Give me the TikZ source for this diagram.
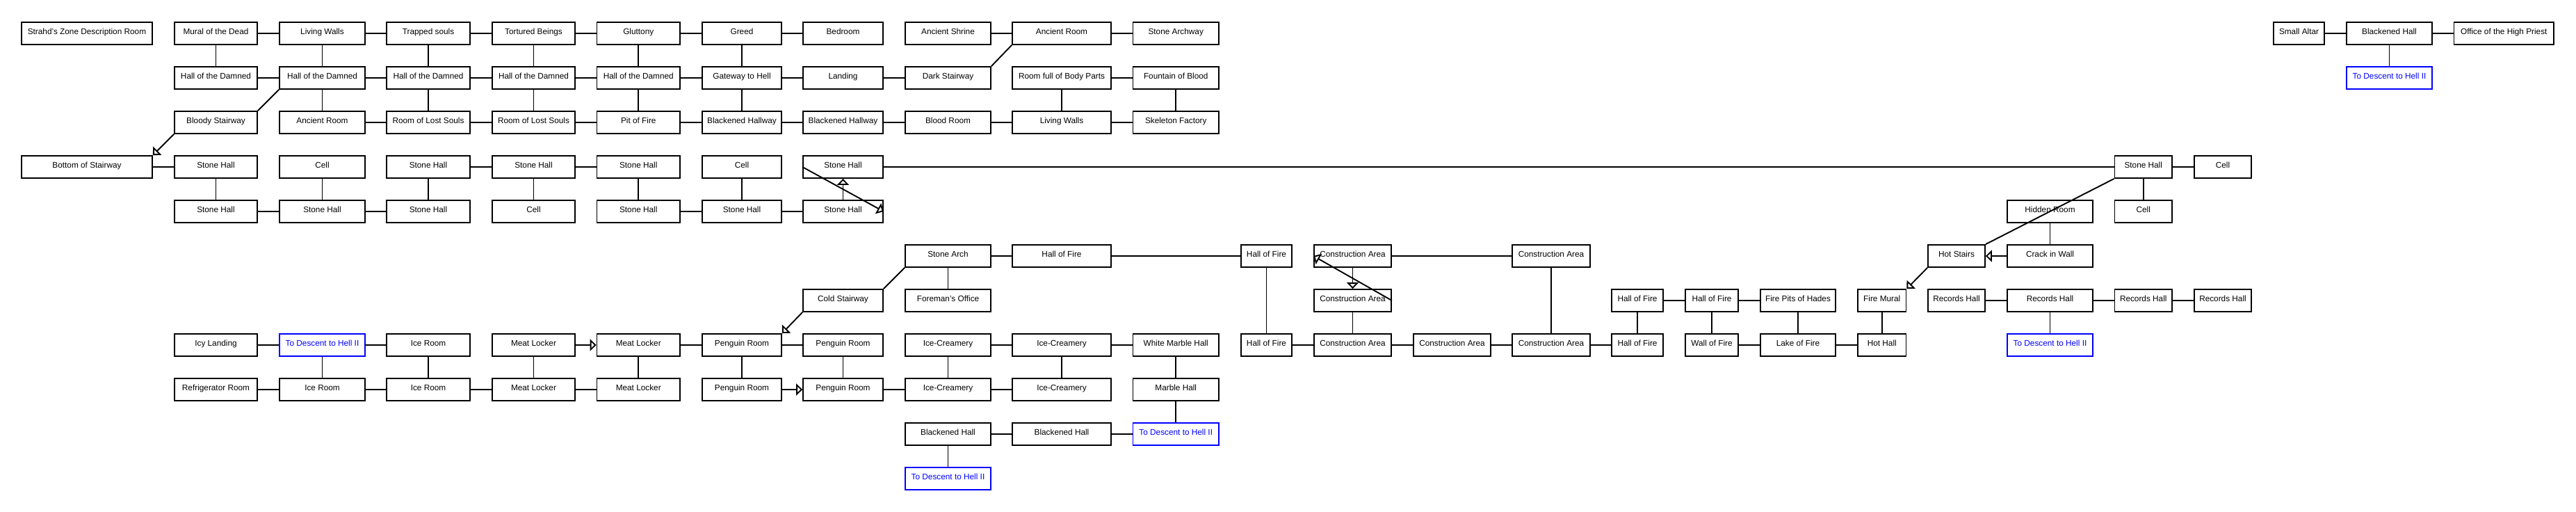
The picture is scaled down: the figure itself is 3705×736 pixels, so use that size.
\documentclass[tikz,border=0pt]{standalone}
\usepackage{fontspec}
\setmainfont{Liberation Sans}
\usepackage{xcolor}
\usetikzlibrary{arrows.meta}

\newcommand{\roomfont}{\fontsize{11.8pt}{14pt}\selectfont}

\tikzset{
  room/.style={draw, line width=1.8pt, rectangle, inner sep=0pt, minimum height=32pt,
    text height=17pt, text depth=15pt, font=\roomfont},
  exit/.style={room, draw=blue, text=blue},
  link/.style={line width=1.9pt},
  oneway/.style={line width=1.9pt, -{Triangle[open,length=9pt,width=17pt]}},
  col0/.style={minimum width=188pt},  col1/.style={minimum width=119pt},
  col2/.style={minimum width=123pt},  col3/.style={minimum width=120pt},
  col4/.style={minimum width=119pt},  col5/.style={minimum width=119.5pt},
  col6/.style={minimum width=114pt},  col7/.style={minimum width=115pt},
  col8/.style={minimum width=123pt},  col9/.style={minimum width=142pt},
  col10/.style={minimum width=123.5pt}, col11/.style={minimum width=73pt},
  col12/.style={minimum width=111pt}, col13/.style={minimum width=111pt},
  col14/.style={minimum width=112pt}, col15/.style={minimum width=74pt},
  col16/.style={minimum width=76pt},  col17/.style={minimum width=108pt},
  col18/.style={minimum width=69.5pt}, col19/.style={minimum width=82pt},
  col20/.style={minimum width=123pt}, col21/.style={minimum width=82.5pt},
  col22/.style={minimum width=82pt},  col23/.style={minimum width=73pt},
  col24/.style={minimum width=123pt}, col25/.style={minimum width=143.5pt}
}

\begin{document}
\begin{tikzpicture}[x=1pt,y=-1pt]
            \useasboundingbox (0,0) rectangle (3705,736);

            % Upper halls
            \node[room, col0] (strahd) at (125,48) {Strahd's Zone Description Room};
            \node[room, col1] (mural) at (310.5,48) {Mural of the Dead};
            \node[room, col2] (walls) at (463.5,48) {Living Walls};
            \node[room, col3] (trapped) at (616,48) {Trapped souls};
            \node[room, col4] (tortured) at (767.5,48) {Tortured Beings};
            \node[room, col5] (glut) at (918.25,48) {Gluttony};
            \node[room, col6] (greed) at (1067,48) {Greed};
            \node[room, col7] (bedroom) at (1212.5,48) {Bedroom};
            \node[room, col8] (shrine) at (1363.5,48) {Ancient Shrine};
            \node[room, col9] (ancient) at (1527,48) {Ancient Room};
            \node[room, col10] (archway) at (1691.25,48) {Stone Archway};
            \node[room, col23] (altar) at (3306.5,48) {Small Altar};
            \node[room, col24] (blackhall) at (3436.5,48) {Blackened Hall};
            \node[room, col25] (office) at (3601.25,48) {Office of the High Priest};

            \node[room, col1] (damnA) at (310.5,112) {Hall of the Damned};
            \node[room, col2] (damnB) at (463.5,112) {Hall of the Damned};
            \node[room, col3] (damnC) at (616,112) {Hall of the Damned};
            \node[room, col4] (damnD) at (767.5,112) {Hall of the Damned};
            \node[room, col5] (damnE) at (918.25,112) {Hall of the Damned};
            \node[room, col6] (gateway) at (1067,112) {Gateway to Hell};
            \node[room, col7] (landing) at (1212.5,112) {Landing};
            \node[room, col8] (darkstair) at (1363.5,112) {Dark Stairway};
            \node[room, col9] (bodyparts) at (1527,112) {Room full of Body Parts};
            \node[room, col10] (fountain) at (1691.25,112) {Fountain of Blood};
            \node[exit, col24] (descentA) at (3436.5,112) {To Descent to Hell II};

            \node[room, col1] (bloody) at (310.5,176) {Bloody Stairway};
            \node[room, col2] (ancientB) at (463.5,176) {Ancient Room};
            \node[room, col3] (lostA) at (616,176) {Room of Lost Souls};
            \node[room, col4] (lostB) at (767.5,176) {Room of Lost Souls};
            \node[room, col5] (pit) at (918.25,176) {Pit of Fire};
            \node[room, col6] (hallwayA) at (1067,176) {Blackened Hallway};
            \node[room, col7] (hallwayB) at (1212.5,176) {Blackened Hallway};
            \node[room, col8] (bloodroom) at (1363.5,176) {Blood Room};
            \node[room, col9] (wallsB) at (1527,176) {Living Walls};
            \node[room, col10] (skeleton) at (1691.25,176) {Skeleton Factory};

            % Stone halls and cells
            \node[room, col0] (bottom) at (125,240) {Bottom of Stairway};
            \node[room, col1] (stoneA) at (310.5,240) {Stone Hall};
            \node[room, col2] (cellA) at (463.5,240) {Cell};
            \node[room, col3] (stoneB) at (616,240) {Stone Hall};
            \node[room, col4] (stoneC) at (767.5,240) {Stone Hall};
            \node[room, col5] (stoneD) at (918.25,240) {Stone Hall};
            \node[room, col6] (cellB) at (1067,240) {Cell};
            \node[room, col7] (stoneE) at (1212.5,240) {Stone Hall};
            \node[room, col21] (stoneF) at (3082.75,240) {Stone Hall};
            \node[room, col22] (cellC) at (3197,240) {Cell};

            \node[room, col1] (stoneG) at (310.5,304) {Stone Hall};
            \node[room, col2] (stoneH) at (463.5,304) {Stone Hall};
            \node[room, col3] (stoneI) at (616,304) {Stone Hall};
            \node[room, col4] (cellD) at (767.5,304) {Cell};
            \node[room, col5] (stoneJ) at (918.25,304) {Stone Hall};
            \node[room, col6] (stoneK) at (1067,304) {Stone Hall};
            \node[room, col7] (stoneL) at (1212.5,304) {Stone Hall};
            \node[room, col20] (hidden) at (2948.5,304) {Hidden Room};
            \node[room, col21] (cellE) at (3082.75,304) {Cell};

            % Fire and construction
            \node[room, col8] (arch) at (1363.5,368) {Stone Arch};
            \node[room, col9] (fireA) at (1527,368) {Hall of Fire};
            \node[room, col11] (fireB) at (1821.5,368) {Hall of Fire};
            \node[room, col12] (buildA) at (1945.5,368) {Construction Area};
            \node[room, col14] (buildB) at (2231,368) {Construction Area};
            \node[room, col19] (hotstairs) at (2814,368) {Hot Stairs};
            \node[room, col20] (crack) at (2948.5,368) {Crack in Wall};

            \node[room, col7] (coldstair) at (1212.5,432) {Cold Stairway};
            \node[room, col8] (foreman) at (1363.5,432) {Foreman's Office};
            \node[room, col12] (buildC) at (1945.5,432) {Construction Area};
            \node[room, col15] (fireC) at (2355,432) {Hall of Fire};
            \node[room, col16] (fireD) at (2462,432) {Hall of Fire};
            \node[room, col17] (firepits) at (2586,432) {Fire Pits of Hades};
            \node[room, col18] (firemural) at (2706.75,432) {Fire Mural};
            \node[room, col19] (recordsA) at (2814,432) {Records Hall};
            \node[room, col20] (recordsB) at (2948.5,432) {Records Hall};
            \node[room, col21] (recordsC) at (3082.75,432) {Records Hall};
            \node[room, col22] (recordsD) at (3197,432) {Records Hall};

            % Cold rooms
            \node[room, col1] (icy) at (310.5,496) {Icy Landing};
            \node[exit, col2] (descentB) at (463.5,496) {To Descent to Hell II};
            \node[room, col3] (iceA) at (616,496) {Ice Room};
            \node[room, col4] (meatA) at (767.5,496) {Meat Locker};
            \node[room, col5] (meatB) at (918.25,496) {Meat Locker};
            \node[room, col6] (penguinA) at (1067,496) {Penguin Room};
            \node[room, col7] (penguinB) at (1212.5,496) {Penguin Room};
            \node[room, col8] (creamA) at (1363.5,496) {Ice-Creamery};
            \node[room, col9] (creamB) at (1527,496) {Ice-Creamery};
            \node[room, col10] (marbleA) at (1691.25,496) {White Marble Hall};
            \node[room, col11] (fireE) at (1821.5,496) {Hall of Fire};
            \node[room, col12] (buildD) at (1945.5,496) {Construction Area};
            \node[room, col13] (buildE) at (2088.5,496) {Construction Area};
            \node[room, col14] (buildF) at (2231,496) {Construction Area};
            \node[room, col15] (fireF) at (2355,496) {Hall of Fire};
            \node[room, col16] (wallfire) at (2462,496) {Wall of Fire};
            \node[room, col17] (lake) at (2586,496) {Lake of Fire};
            \node[room, col18] (hothall) at (2706.75,496) {Hot Hall};
            \node[exit, col20] (descentC) at (2948.5,496) {To Descent to Hell II};

            \node[room, col1] (fridge) at (310.5,560) {Refrigerator Room};
            \node[room, col2] (iceB) at (463.5,560) {Ice Room};
            \node[room, col3] (iceC) at (616,560) {Ice Room};
            \node[room, col4] (meatC) at (767.5,560) {Meat Locker};
            \node[room, col5] (meatD) at (918.25,560) {Meat Locker};
            \node[room, col6] (penguinC) at (1067,560) {Penguin Room};
            \node[room, col7] (penguinD) at (1212.5,560) {Penguin Room};
            \node[room, col8] (creamC) at (1363.5,560) {Ice-Creamery};
            \node[room, col9] (creamD) at (1527,560) {Ice-Creamery};
            \node[room, col10] (marbleB) at (1691.25,560) {Marble Hall};

            \node[room, col8] (blackA) at (1363.5,624) {Blackened Hall};
            \node[room, col9] (blackB) at (1527,624) {Blackened Hall};
            \node[exit, col10] (descentD) at (1691.25,624) {To Descent to Hell II};
            \node[exit, col8] (descentE) at (1363.5,688) {To Descent to Hell II};

            % Passages
            \draw[link] (mural) -- (walls) -- (trapped) -- (tortured) -- (glut) -- (greed) -- (bedroom);
            \draw[link] (shrine) -- (ancient) -- (archway);
            \draw[link] (altar) -- (blackhall) -- (office);
            \draw[link] (mural) -- (damnA);
            \draw[link] (walls) -- (damnB);
            \draw[link] (trapped) -- (damnC);
            \draw[link] (tortured) -- (damnD);
            \draw[link] (glut) -- (damnE);
            \draw[link] (greed) -- (gateway);
            \draw[link] (blackhall) -- (descentA);
            \draw[link] (ancient.south west) -- (darkstair.north east);

            \draw[link] (damnA) -- (damnB) -- (damnC) -- (damnD) -- (damnE) -- (gateway) -- (landing) -- (darkstair);
            \draw[link] (bodyparts) -- (fountain);
            \draw[link] (damnB) -- (ancientB);
            \draw[link] (damnC) -- (lostA);
            \draw[link] (damnD) -- (lostB);
            \draw[link] (damnE) -- (pit);
            \draw[link] (gateway) -- (hallwayA);
            \draw[link] (bodyparts) -- (wallsB);
            \draw[link] (fountain) -- (skeleton);
            \draw[link] (damnB.south west) -- (bloody.north east);

            \draw[link] (ancientB) -- (lostA) -- (lostB) -- (pit) -- (hallwayA) -- (hallwayB) -- (bloodroom) -- (wallsB) -- (skeleton);
            \draw[oneway] (bloody.south west) -- (bottom.north east);

            \draw[link] (bottom) -- (stoneA);
            \draw[link] (stoneB) -- (stoneC) -- (stoneD);
            \draw[link] (stoneE) -- (stoneF) -- (cellC);
            \draw[link] (stoneA) -- (stoneG);
            \draw[link] (cellA) -- (stoneH);
            \draw[link] (stoneB) -- (stoneI);
            \draw[link] (stoneC) -- (cellD);
            \draw[link] (stoneD) -- (stoneJ);
            \draw[link] (cellB) -- (stoneK);
            \draw[oneway] (stoneL) -- (stoneE);
            \draw[oneway] (stoneE.west) -- (stoneL.east);
            \draw[link] (stoneF) -- (cellE);
            \draw[link] (stoneF.south west) -- (hotstairs.north east);

            \draw[link] (stoneG) -- (stoneH) -- (stoneI);
            \draw[link] (stoneJ) -- (stoneK) -- (stoneL);
            \draw[link] (hidden) -- (crack);

            \draw[link] (arch) -- (fireA) -- (fireB);
            \draw[link] (buildA) -- (buildB);
            \draw[oneway] (crack) -- (hotstairs);
            \draw[link] (arch) -- (foreman);
            \draw[link] (arch.south west) -- (coldstair.north east);
            \draw[oneway] (coldstair.south west) -- (penguinA.north east);
            \draw[link] (fireB) -- (fireE);
            \draw[oneway] (buildA) -- (buildC);
            \draw[oneway] (buildC.east) -- (buildA.west);
            \draw[link] (buildB) -- (buildF);
            \draw[oneway] (hotstairs.south west) -- (firemural.north east);

            \draw[link] (fireC) -- (fireD) -- (firepits);
            \draw[link] (recordsA) -- (recordsB) -- (recordsC) -- (recordsD);
            \draw[link] (buildC) -- (buildD);
            \draw[link] (fireC) -- (fireF);
            \draw[link] (fireD) -- (wallfire);
            \draw[link] (firepits) -- (lake);
            \draw[link] (firemural) -- (hothall);
            \draw[link] (recordsB) -- (descentC);

            \draw[link] (icy) -- (descentB) -- (iceA);
            \draw[oneway] (meatA) -- (meatB);
            \draw[link] (meatB) -- (penguinA) -- (penguinB);
            \draw[link] (creamA) -- (creamB) -- (marbleA);
            \draw[link] (fireE) -- (buildD) -- (buildE) -- (buildF) -- (fireF);
            \draw[link] (wallfire) -- (lake) -- (hothall);
            \draw[link] (descentB) -- (iceB);
            \draw[link] (iceA) -- (iceC);
            \draw[link] (meatA) -- (meatC);
            \draw[link] (meatB) -- (meatD);
            \draw[link] (penguinA) -- (penguinC);
            \draw[link] (penguinB) -- (penguinD);
            \draw[link] (creamA) -- (creamC);
            \draw[link] (creamB) -- (creamD);
            \draw[link] (marbleA) -- (marbleB);

            \draw[link] (fridge) -- (iceB) -- (iceC) -- (meatC) -- (meatD);
            \draw[oneway] (penguinC) -- (penguinD);
            \draw[link] (penguinD) -- (creamC) -- (creamD);
            \draw[link] (marbleB) -- (descentD);
            \draw[link] (blackA) -- (blackB) -- (descentD);
            \draw[link] (blackA) -- (descentE);
\end{tikzpicture}
\end{document}
